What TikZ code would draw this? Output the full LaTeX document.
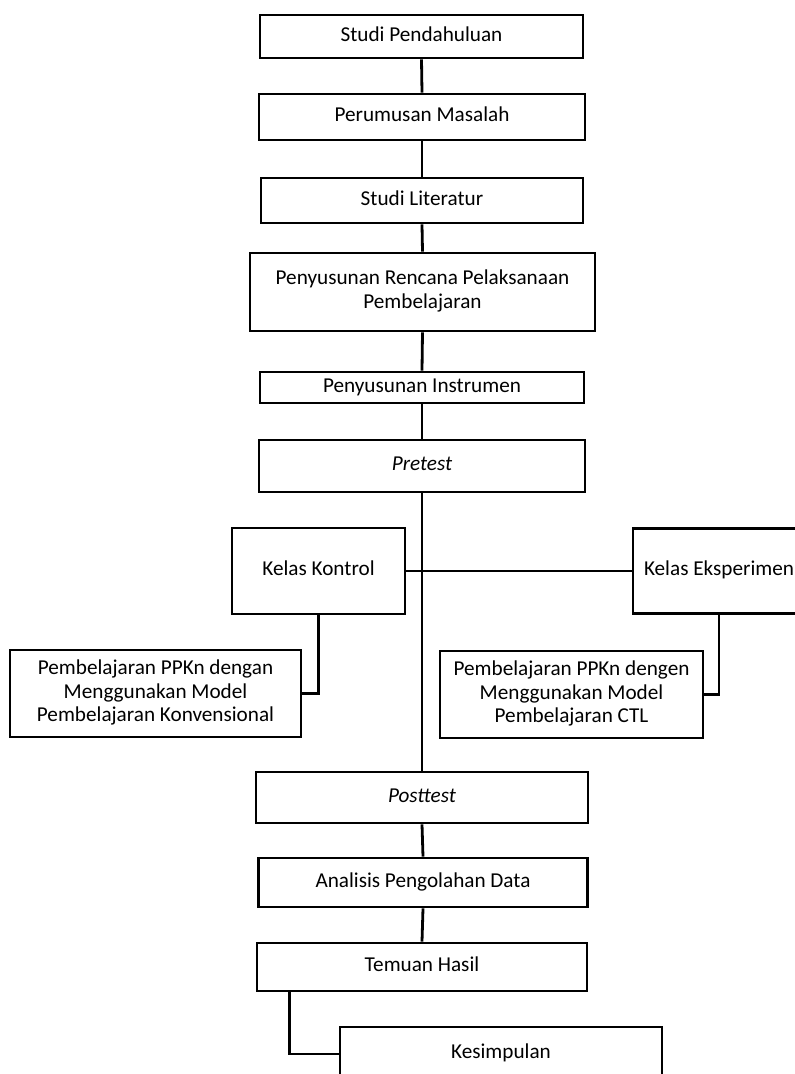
\documentclass[tikz,border=0pt]{standalone}
\usepackage{fontspec}
\setmainfont{Carlito}
\begin{document}
\begin{tikzpicture}[x=1pt,y=-1pt,
  box/.style={draw=black,line width=2.8pt,inner sep=0pt,align=center,
    font=\fontsize{21.2}{23.5}\selectfont},
  link/.style={draw=black,line width=2.8pt}]
\useasboundingbox (0,0) rectangle (795,1074);
\node[box,minimum width=323pt,minimum height=43pt] (b1) at (421.5,36.5) {\strut Studi Pendahuluan};
\node[box,minimum width=326pt,minimum height=46pt] (b2) at (422,117) {\strut Perumusan Masalah};
\node[box,minimum width=322pt,minimum height=45pt] (b3) at (422,200.5) {\strut Studi Literatur};
\node[box,minimum width=345pt,minimum height=78pt] (b4) at (422.5,292) {\strut Penyusunan Rencana Pelaksanaan\\Pembelajaran\strut};
\node[box,minimum width=324pt,minimum height=31pt] (b5) at (422,387.5) {\strut Penyusunan Instrumen};
\node[box,minimum width=326pt,minimum height=52pt] (pre) at (422,466) {\strut\itshape Pretest};
\node[box,minimum width=173pt,minimum height=86pt] (kk) at (318.5,571) {\strut Kelas Kontrol};
\node[box,minimum width=172pt,minimum height=85pt] (ke) at (719,571) {\strut Kelas Eksperimen};
\node[box,minimum width=291pt,minimum height=87pt] (pk) at (155.5,693.5) {\strut Pembelajaran PPKn dengan\\Menggunakan Model\\Pembelajaran Konvensional\strut};
\node[box,minimum width=263pt,minimum height=87pt] (pc) at (571.5,694.5) {\strut Pembelajaran PPKn dengen\\Menggunakan Model\\Pembelajaran CTL\strut};
\node[box,minimum width=332pt,minimum height=51pt] (post) at (422,797.5) {\strut\itshape Posttest};
\node[box,minimum width=329pt,minimum height=49pt] (an) at (423,882.5) {\strut Analisis Pengolahan Data};
\node[box,minimum width=330pt,minimum height=48pt] (tem) at (422,967) {\strut Temuan Hasil};
\node[box,minimum width=322pt,minimum height=54pt] (kes) at (501,1054) {\strut Kesimpulan};
\coordinate (tb) at ([xshift=34pt]tem.south west);
\draw[link] (b1.south) -- (b2.north);
\draw[link] (b2.south) -- (b3.north);
\draw[link] (b3.south) -- (b4.north);
\draw[link] (b4.south) -- (b5.north);
\draw[link] (b5.south) -- (pre.north);
\draw[link] (pre.south) -- (post.north);
\draw[link] (kk.east) -- (kk.east -| ke.west);
\draw[link] (kk.south) |- (pk.east);
\draw[link] (ke.south) |- (pc.east);
\draw[link] (post.south) -- (an.north);
\draw[link] (an.south) -- (tem.north);
\draw[link] (tb) |- (kes.west);
\end{tikzpicture}
\end{document}
